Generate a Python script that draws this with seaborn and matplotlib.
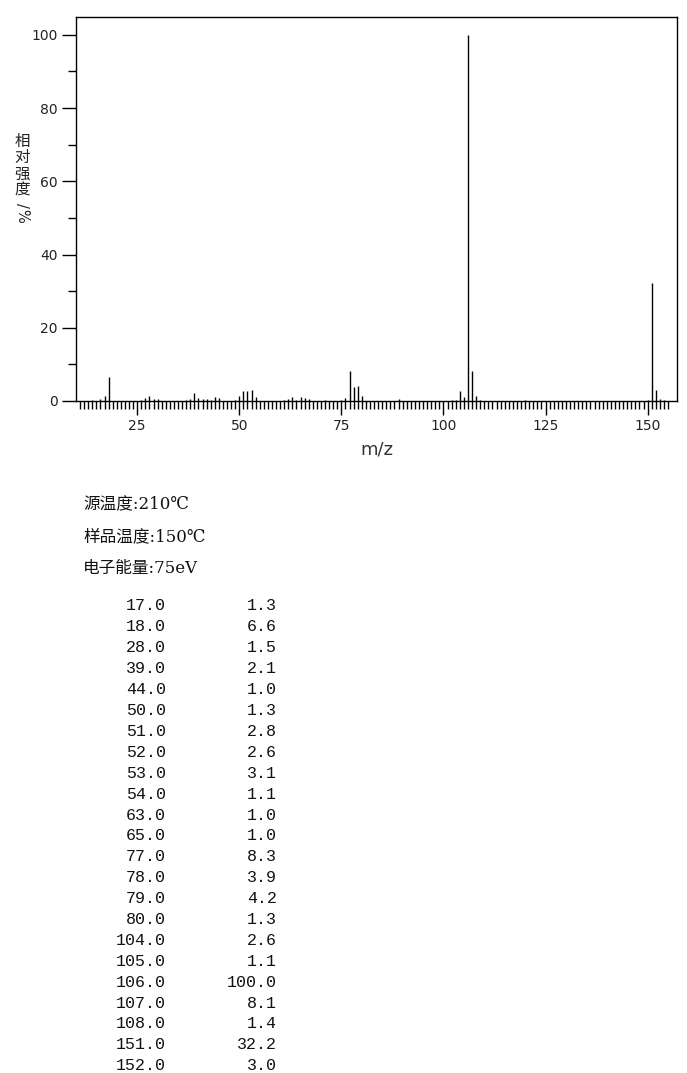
import numpy as np
import pandas as pd
import matplotlib
matplotlib.use("Agg")
import matplotlib.pyplot as plt
import seaborn as sns

# listed peaks (m/z, relative intensity %)
mz = [17.0, 18.0, 28.0, 39.0, 44.0, 50.0, 51.0, 52.0, 53.0, 54.0, 63.0, 65.0,
      77.0, 78.0, 79.0, 80.0, 104.0, 105.0, 106.0, 107.0, 108.0, 151.0, 152.0]
intensity = [1.3, 6.6, 1.5, 2.1, 1.0, 1.3, 2.8, 2.6, 3.1, 1.1, 1.0, 1.0,
             8.3, 3.9, 4.2, 1.3, 2.6, 1.1, 100.0, 8.1, 1.4, 32.2, 3.0]

# small peaks below 1% seen on the baseline (estimated)
small_mz = [14, 16, 26, 27, 29, 30, 37, 38, 40, 41, 42, 43, 45, 49, 61, 62, 64,
            66, 67, 71, 75, 76, 89, 102, 103, 109, 120, 150, 153, 154]
small_int = [0.4, 0.5, 0.3, 0.9, 0.5, 0.5, 0.3, 0.6, 0.7, 0.6, 0.5, 0.3, 0.7, 0.4,
             0.3, 0.5, 0.4, 0.7, 0.5, 0.3, 0.4, 0.8, 0.5, 0.3, 0.3, 0.3, 0.3, 0.3,
             0.5, 0.2]

info = ["源温度:210℃", "样品温度:150℃", "电子能量:75eV"]
ylabel_chars = ["相", "对", "强", "度"]
ylabel_unit = ["/", "%"]

df = pd.DataFrame({"mz": mz + small_mz, "rel": intensity + small_int})

sns.set_style("ticks")
plt.rcParams["font.family"] = ["DejaVu Sans", "Noto Sans CJK SC"]

fig = plt.figure(figsize=(6.87, 10.73), dpi=100)
ax = fig.add_axes([76/687, 1 - 401/1073, 601/687, 383.7/1073])

ax.vlines(df["mz"], 0, df["rel"], colors="black", linewidth=1.0)

ax.set_xlim(10, 157.2)
ax.set_ylim(0, 104.8)
ax.set_xticks([25, 50, 75, 100, 125, 150])
ax.set_xticks(np.arange(11, 156), minor=True)
ax.set_yticks([0, 20, 40, 60, 80, 100])
ax.set_yticks([10, 30, 50, 70, 90], minor=True)
ax.tick_params(axis="both", which="major", length=10, width=1, color="black",
               labelsize=10, labelcolor="#222222", pad=3)
ax.tick_params(axis="both", which="minor", length=6, width=1, color="black")
for s in ax.spines.values():
    s.set_color("black")
    s.set_linewidth(1)

ax.set_xlabel("m/z", fontsize=13, color="#333333", labelpad=5)

# vertical y label: upright stacked characters, then "/" and "%" turned sideways
for i, ch in enumerate(ylabel_chars):
    fig.text(22/687, 1 - (141 + i*16.5)/1073, ch, fontsize=11.2, ha="center", va="center",
             family=["Noto Sans CJK SC"], color="#222222")
for i, ch in enumerate(ylabel_unit):
    fig.text(22/687, 1 - (205 + i*11)/1073, ch, fontsize=10.5, ha="center", va="center",
             rotation=270, color="#222222")

for i, t in enumerate(info):
    fig.text(83/687, 1 - (505 + i*31.5)/1073, t, fontsize=12, ha="left", va="center",
             family=["DejaVu Serif", "Noto Sans CJK SC"], color="#111111")

for i, (m, r) in enumerate(zip(mz, intensity)):
    y = 1 - (606 + i*20.9)/1073
    fig.text(166/687, y, f"{m:.1f}", fontsize=12, ha="right", va="center",
             family="Liberation Mono", color="#111111")
    fig.text(277/687, y, f"{r:.1f}", fontsize=12, ha="right", va="center",
             family="Liberation Mono", color="#111111")

fig.savefig("out.png", dpi=100)
